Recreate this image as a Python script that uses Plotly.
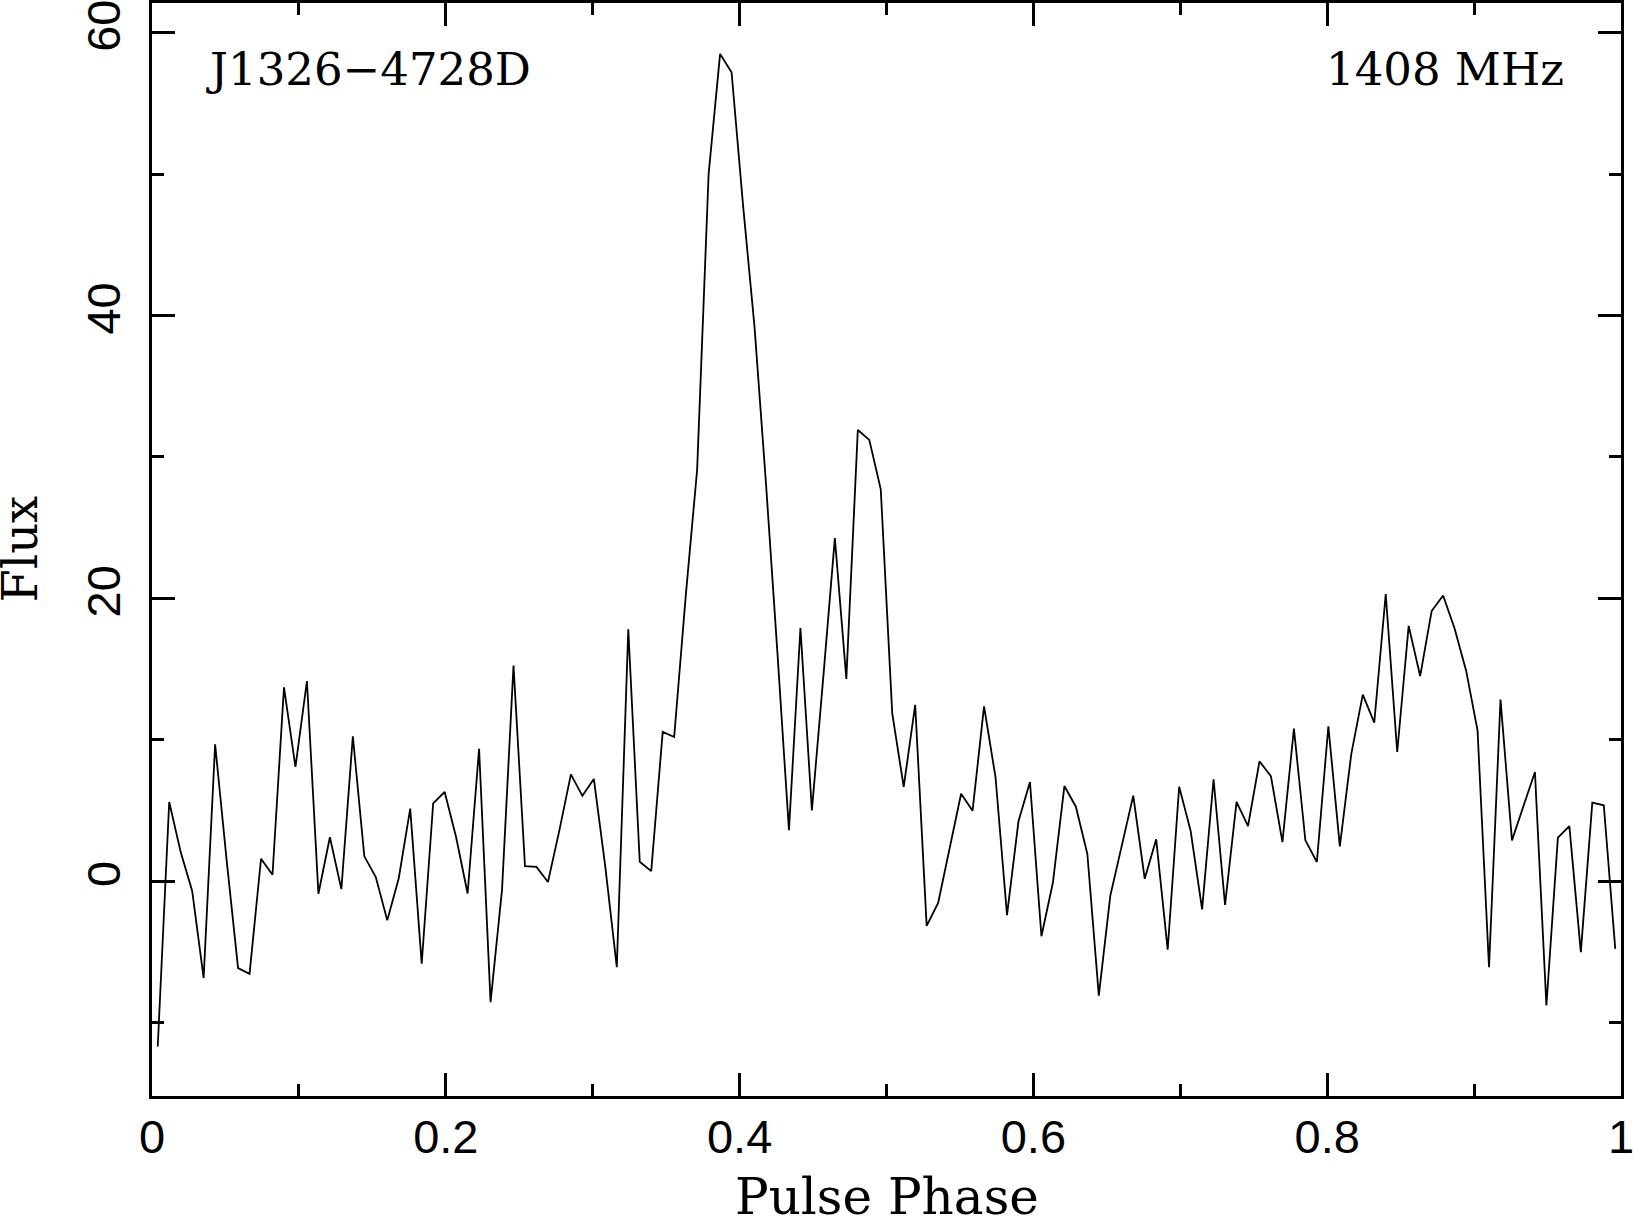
import numpy as np
import plotly.graph_objects as go

# Pulse profile of J1326-4728D at 1408 MHz, 128 phase bins
n_bins = 128
flux = [
    -11.7, 5.59, 2.05, -0.7, -6.86, 9.67, 1.5, -6.16, -6.56, 1.58,
    0.45, 13.7, 8.07, 14.15, -0.9, 3.1, -0.57, 10.24, 1.75, 0.28,
    -2.78, 0.2, 5.12, -5.85, 5.5, 6.3, 3.1, -0.88, 9.35, -8.56,
    -0.6, 15.25, 1.05, 1.0, -0.07, 3.6, 7.55, 6.03, 7.22, 1.0,
    -6.09, 17.8, 1.37, 0.7, 10.55, 10.19, 20.1, 29.1, 50.0, 58.5,
    57.2, 47.8, 39.2, 28.1, 16.1, 3.6, 17.9, 5.0, 14.5, 24.25,
    14.3, 31.9, 31.2, 27.7, 11.86, 6.66, 12.47, -3.17, -1.55, 2.3,
    6.18, 4.98, 12.35, 7.34, -2.41, 4.23, 7.01, -3.9, -0.1, 6.72,
    5.26, 1.93, -8.1, -1.05, 2.5, 6.04, 0.16, 2.95, -4.85, 6.67,
    3.55, -2.0, 7.2, -1.68, 5.6, 3.89, 8.47, 7.41, 2.76, 10.78,
    2.88, 1.35, 10.95, 2.46, 9.0, 13.19, 11.2, 20.3, 9.13, 18.05,
    14.5, 19.1, 20.2, 17.86, 14.9, 10.66, -6.09, 12.84, 2.88, 5.26,
    7.72, -8.8, 3.07, 3.89, -5.02, 5.55, 5.36, -4.79,
]
x_ticks = [0, 0.2, 0.4, 0.6, 0.8, 1]
x_tick_text = ["0", "0.2", "0.4", "0.6", "0.8", "1"]
y_ticks = [0, 20, 40, 60]
y_tick_text = ["0", "20", "40", "60"]
source_name = "J1326\u22124728D"
frequency_label = "1408 MHz"
x_label = "Pulse Phase"
y_label = "Flux"

# bin centres
phase = (np.arange(n_bins) + 0.5) / n_bins

serif = "DejaVu Serif"
sans = "Liberation Sans"

fig = go.Figure()
fig.add_trace(go.Scatter(
    x=phase, y=flux,
    mode='lines',
    line=dict(color='black', width=1.8),
    showlegend=False,
))

axis_common = dict(
    showline=True, linecolor='black', linewidth=3,
    mirror='ticks', ticks='inside', ticklen=23, tickwidth=3,
    tickcolor='black', showgrid=False, zeroline=False,
    automargin=False, ticklabeloverflow='allow',
    tickfont=dict(family=sans, size=47, color='black'),
)

fig.update_xaxes(
    range=[0, 1], tickmode='array', tickvals=x_ticks, ticktext=x_tick_text,
    minor=dict(dtick=0.1, tick0=0, ticks='inside', ticklen=12, tickwidth=3, tickcolor='black'),
    ticklabelstandoff=-2,
    **axis_common
)
fig.update_yaxes(
    range=[-15.2, 62.1], tickmode='array', tickvals=y_ticks, ticktext=y_tick_text,
    tickangle=-90,
    minor=dict(dtick=10, tick0=0, ticks='inside', ticklen=12, tickwidth=3, tickcolor='black'),
    ticklabelstandoff=10,
    **axis_common
)

# labels inside the frame
fig.add_annotation(text=source_name, xref='paper', yref='paper',
                   x=0.0357, y=0.9389, xanchor='left', yanchor='middle',
                   showarrow=False, font=dict(family=serif, size=45, color='black'))
fig.add_annotation(text=frequency_label, xref='paper', yref='paper',
                   x=0.9624, y=0.9389, xanchor='right', yanchor='middle',
                   showarrow=False, font=dict(family=serif, size=45, color='black'))

# axis titles
fig.add_annotation(text=x_label, xref='paper', yref='paper',
                   x=0.5, y=0, xanchor='center', yanchor='top', yshift=-70,
                   showarrow=False, font=dict(family=serif, size=50, color='black'))
fig.add_annotation(text=y_label, xref='paper', yref='paper',
                   x=0, y=0.5, xanchor='center', yanchor='middle', xshift=-133,
                   textangle=-90, showarrow=False,
                   font=dict(family=serif, size=48, color='black'))

fig.update_layout(
    width=1633, height=1217,
    margin=dict(l=152, r=12, t=3, b=121),
    paper_bgcolor='white', plot_bgcolor='white',
)

# drop the default page margin so the figure sits at the window corner
fig.write_html("out.html",
               config={'displayModeBar': False},
               post_script="document.body.style.margin='0px';"
                           "document.body.style.overflow='hidden';")
